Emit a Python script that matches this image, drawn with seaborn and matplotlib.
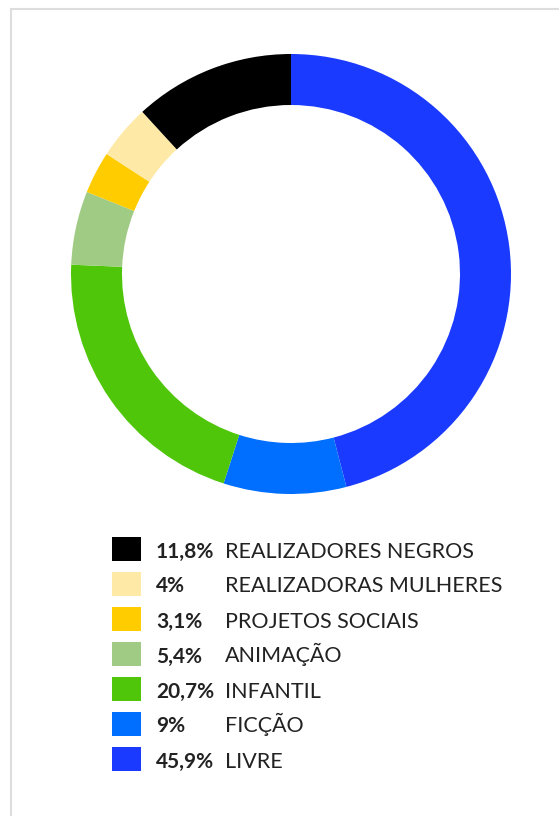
import matplotlib
matplotlib.use("Agg")
import matplotlib.pyplot as plt
from matplotlib.patches import Rectangle
import seaborn as sns

# Data (legend order)
categories = ["REALIZADORES NEGROS", "REALIZADORAS MULHERES", "PROJETOS SOCIAIS",
              "ANIMAÇÃO", "INFANTIL", "FICÇÃO", "LIVRE"]
values = [11.8, 4.0, 3.1, 5.4, 20.7, 9.0, 45.9]
pct_labels = ["11,8%", "4%", "3,1%", "5,4%", "20,7%", "9%", "45,9%"]
colors = ["#000000", "#FFE9A6", "#FFCC00", "#A0CB85", "#4FC60A", "#006EFF", "#1A3AFF"]

sns.set_theme(style="white")
plt.rcParams["font.family"] = ["Lato", "DejaVu Sans"]

W, H = 559, 816
fig = plt.figure(figsize=(W / 100, H / 100), dpi=100)
fig.patch.set_facecolor("white")

# Border (light gray, left and top)
fig.add_artist(Rectangle((10.5 / W, -0.1), 2.0, 1.1 - 8.5 / H + 0.0,
                         transform=fig.transFigure, fill=False,
                         edgecolor="#dddddd", linewidth=1.5))

# Donut
cx, cy, r = 291, 274, 220
ax = fig.add_axes([(cx - r) / W, 1 - (cy + r) / H, 2 * r / W, 2 * r / H])
pie_vals = values[::-1]
pie_cols = colors[::-1]
ax.pie(pie_vals, colors=pie_cols, startangle=90, counterclock=False, radius=1.0,
       wedgeprops=dict(width=51 / 220, edgecolor="none", linewidth=0))
ax.set_xlim(-1, 1)
ax.set_ylim(-1, 1)
ax.set_aspect("equal")
ax.axis("off")

# Legend
y0, dy = 549, 35
for i, (cat, pct, col) in enumerate(zip(categories, pct_labels, colors)):
    yc = y0 + i * dy
    fig.add_artist(Rectangle((112 / W, 1 - (yc + 12) / H), 29 / W, 24 / H,
                             transform=fig.transFigure, facecolor=col,
                             edgecolor="none"))
    fig.text(156 / W, 1 - (yc + 8.5) / H, pct, fontsize=15, fontweight="bold",
             color="#222222", va="baseline", ha="left")
    fig.text(225 / W, 1 - (yc + 8.5) / H, cat, fontsize=15.5, color="#222222",
             va="baseline", ha="left")

fig.savefig("out.png", dpi=100, facecolor="white")
